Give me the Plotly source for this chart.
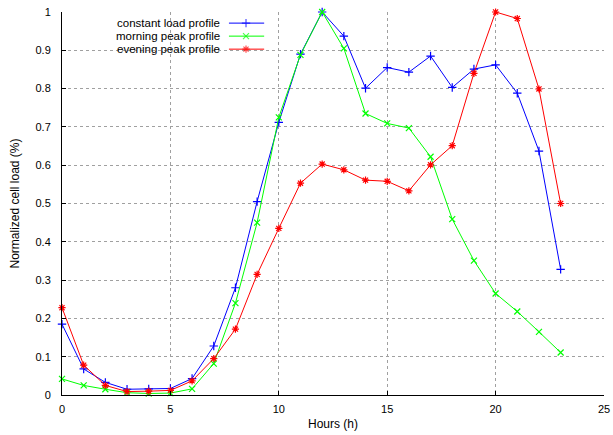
import plotly.graph_objects as go

hours = list(range(24))
constant_load = [0.185, 0.068, 0.033, 0.015, 0.016, 0.017, 0.043, 0.128, 0.28, 0.505,
                 0.712, 0.89, 1.0, 0.937, 0.801, 0.855, 0.843, 0.885, 0.803, 0.851,
                 0.862, 0.788, 0.637, 0.328]
morning_peak = [0.042, 0.025, 0.015, 0.006, 0.004, 0.005, 0.016, 0.082, 0.24, 0.45,
                0.725, 0.888, 1.0, 0.905, 0.735, 0.709, 0.697, 0.622, 0.459, 0.351,
                0.265, 0.218, 0.165, 0.111]
evening_peak = [0.228, 0.078, 0.025, 0.009, 0.010, 0.012, 0.037, 0.095, 0.172, 0.315,
                0.435, 0.553, 0.603, 0.588, 0.561, 0.558, 0.533, 0.601, 0.651, 0.840,
                1.0, 0.983, 0.799, 0.5]
series_names = ["constant load profile", "morning peak profile", "evening peak profile"]
x_ticks = [0, 5, 10, 15, 20, 25]
y_ticks = [0, 0.1, 0.2, 0.3, 0.4, 0.5, 0.6, 0.7, 0.8, 0.9, 1]

colors = ["#0000ff", "#00ff00", "#ff0000"]
symbols = ["cross-thin-open", "x-thin-open", "asterisk-open"]
all_series = [constant_load, morning_peak, evening_peak]

fig = go.Figure()
for vals, name, c, s in zip(all_series, series_names, colors, symbols):
    fig.add_trace(go.Scatter(
        x=hours, y=vals, name=name, mode="lines+markers",
        line=dict(color=c, width=1),
        marker=dict(symbol=s, size=6, color=c, line=dict(color=c, width=1.2)),
        showlegend=False, cliponaxis=False,
    ))

# custom legend (gnuplot style: text right-aligned, sample to the right)
leg_rows = [0.971, 0.937, 0.903]
for name, c, s, ry in zip(series_names, colors, symbols, leg_rows):
    fig.add_trace(go.Scatter(
        x=[0.308, 0.3395, 0.373], y=[ry, ry, ry], xaxis="x2", yaxis="y2",
        mode="lines+markers", line=dict(color=c, width=1),
        marker=dict(symbol=s, size=[0, 6, 0], color=c, line=dict(color=c, width=1.2)),
        showlegend=False, hoverinfo="skip",
    ))
    fig.add_annotation(x=0.294, y=ry, xref="paper", yref="paper", text=name,
                       showarrow=False, xanchor="right", yanchor="middle",
                       borderpad=0, font=dict(size=11.5, color="#000000"))

axis_font = dict(family="Liberation Sans, Arial, sans-serif", size=11, color="#000000")
title_font = dict(family="Liberation Sans, Arial, sans-serif", size=12, color="#000000")
common = dict(ticks="inside", ticklen=4, tickcolor="#000", showline=True,
              linecolor="#000", linewidth=1, showgrid=True, gridcolor="#a0a0a0",
              griddash="dot", gridwidth=1, zeroline=False, tickfont=axis_font,
              automargin=False)
fig.update_layout(
    width=613, height=435,
    margin=dict(l=62, r=9, t=12, b=40, autoexpand=False),
    paper_bgcolor="white", plot_bgcolor="white",
    font=axis_font,
    xaxis=dict(range=[0, 25], tickvals=x_ticks, ticklabelstandoff=4,
               title=dict(text="Hours (h)", standoff=5, font=title_font), **common),
    yaxis=dict(range=[0, 1], tickvals=y_ticks, ticklabelstandoff=8,
               title=dict(text="Normalized cell load (%)", standoff=13, font=title_font),
               **common),
    xaxis2=dict(range=[0, 1], overlaying="x", visible=False, fixedrange=True),
    yaxis2=dict(range=[0, 1], overlaying="y", visible=False, fixedrange=True),
)
fig.write_html(
    "out.html",
    config={"displayModeBar": False},
    post_script="document.body.style.margin='0';document.body.style.overflow='hidden';",
)
